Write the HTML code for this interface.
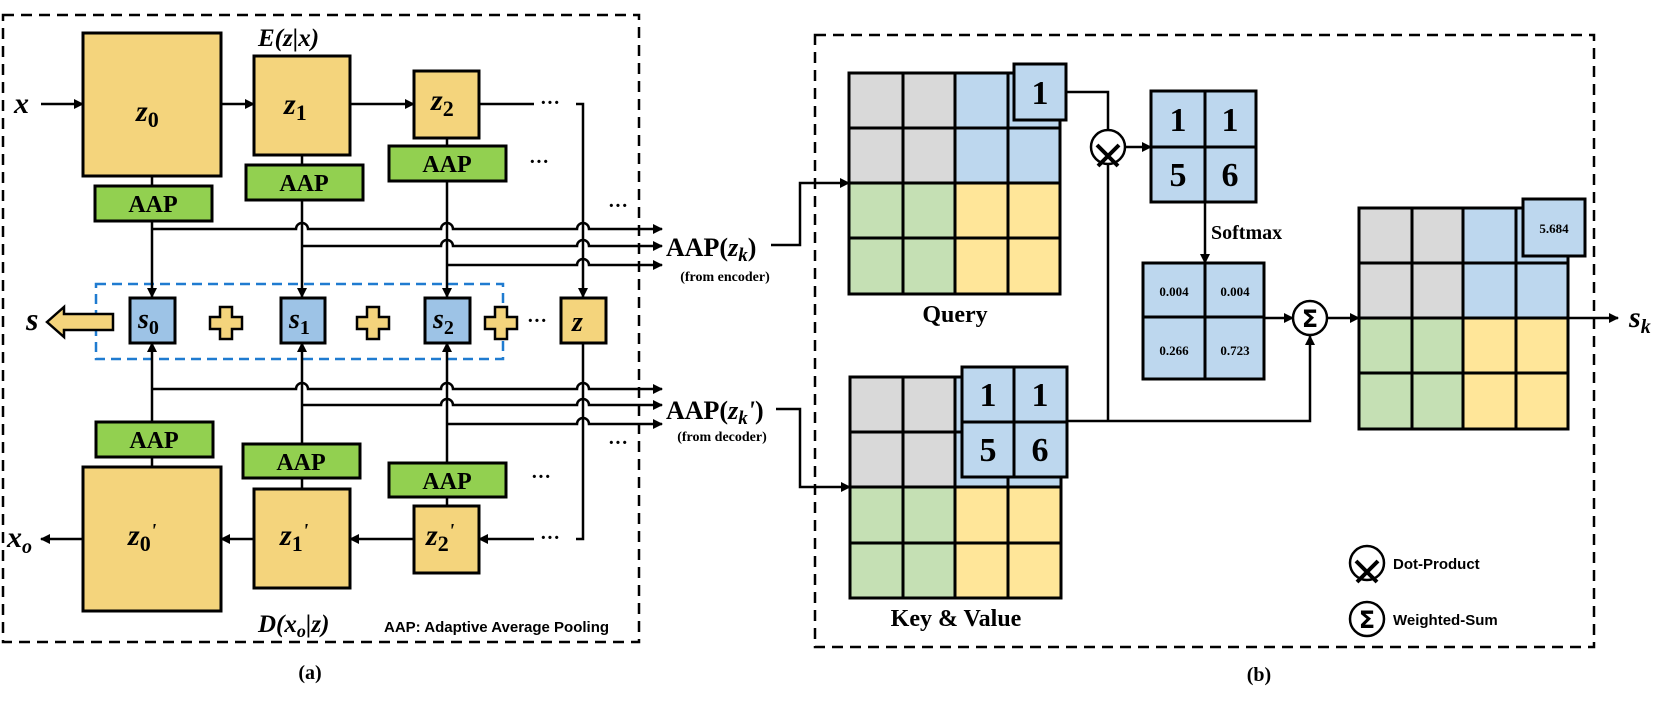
<!DOCTYPE html>
<html><head><meta charset="utf-8"><style>
html,body{margin:0;padding:0;background:#fff;}
svg{display:block;}
.m{font-family:"Liberation Serif",serif;font-style:italic;font-weight:bold;}
.b{font-family:"Liberation Serif",serif;font-weight:bold;}
.s{font-family:"Liberation Sans",sans-serif;font-weight:bold;}
</style></head><body>
<svg width="1661" height="702" viewBox="0 0 1661 702" xmlns="http://www.w3.org/2000/svg">
<defs>
<marker id="ah" markerWidth="10" markerHeight="10" refX="9" refY="5" orient="auto" markerUnits="userSpaceOnUse">
<path d="M0,0 L10,5 L0,10 z" fill="#000"/></marker>
</defs>
<g fill="none" stroke="#000" stroke-width="2.5" stroke-dasharray="11,7">
<rect x="3" y="15" width="636" height="627"/>
<rect x="815" y="35" width="779" height="612"/>
</g>
<rect x="96" y="284" width="407" height="75" fill="none" stroke="#1f7bd0" stroke-width="2.5" stroke-dasharray="10,6"/>

<g stroke="#000" stroke-width="2.5" fill="none">
<line x1="41" y1="104" x2="83" y2="104" marker-end="url(#ah)"/>
<line x1="221" y1="104" x2="254" y2="104" marker-end="url(#ah)"/>
<line x1="350" y1="104" x2="414" y2="104" marker-end="url(#ah)"/>
<line x1="479" y1="104" x2="534" y2="104"/>
<polyline points="576,104 583,104 583,297" marker-end="url(#ah)"/>
<line x1="152" y1="176" x2="152" y2="186"/>
<line x1="302" y1="155" x2="302" y2="165"/>
<line x1="447" y1="138" x2="447" y2="146"/>
<line x1="152" y1="221" x2="152" y2="297" marker-end="url(#ah)"/>
<line x1="302" y1="200" x2="302" y2="297" marker-end="url(#ah)"/>
<line x1="447" y1="181" x2="447" y2="297" marker-end="url(#ah)"/>
<path d="M152 229 H296 A6 6 0 0 1 308 229 H441 A6 6 0 0 1 453 229 H577 A6 6 0 0 1 589 229 H662" marker-end="url(#ah)"/>
<path d="M302 246 H441 A6 6 0 0 1 453 246 H577 A6 6 0 0 1 589 246 H662" marker-end="url(#ah)"/>
<path d="M447 265 H577 A6 6 0 0 1 589 265 H662" marker-end="url(#ah)"/>
<line x1="152" y1="422" x2="152" y2="343" marker-end="url(#ah)"/>
<line x1="302" y1="444" x2="302" y2="343" marker-end="url(#ah)"/>
<line x1="447" y1="463" x2="447" y2="343" marker-end="url(#ah)"/>
<path d="M152 389 H296 A6 6 0 0 1 308 389 H441 A6 6 0 0 1 453 389 H577 A6 6 0 0 1 589 389 H662" marker-end="url(#ah)"/>
<path d="M302 405 H441 A6 6 0 0 1 453 405 H577 A6 6 0 0 1 589 405 H662" marker-end="url(#ah)"/>
<path d="M447 424 H577 A6 6 0 0 1 589 424 H662" marker-end="url(#ah)"/>
<line x1="152" y1="457" x2="152" y2="467"/>
<line x1="302" y1="478" x2="302" y2="489"/>
<line x1="447" y1="497" x2="447" y2="506"/>
<polyline points="583,343 583,539 576,539"/>
<line x1="534" y1="539" x2="479" y2="539" marker-end="url(#ah)"/>
<line x1="414" y1="539" x2="350" y2="539" marker-end="url(#ah)"/>
<line x1="254" y1="539" x2="221" y2="539" marker-end="url(#ah)"/>
<line x1="83" y1="539" x2="41" y2="539" marker-end="url(#ah)"/>
<polyline points="771,245 800,245 800,183 849,183" marker-end="url(#ah)"/>
<polyline points="776,409 800,409 800,487 850,487" marker-end="url(#ah)"/>
</g>

<g stroke="#000" stroke-width="3">
<rect x="83" y="33" width="138" height="143" fill="#f4d47c"/>
<rect x="254" y="56" width="96" height="99" fill="#f4d47c"/>
<rect x="414" y="71" width="65" height="67" fill="#f4d47c"/>
<rect x="95" y="186" width="117" height="35" fill="#92d050"/>
<rect x="246" y="165" width="117" height="35" fill="#92d050"/>
<rect x="389" y="146" width="117" height="35" fill="#92d050"/>
<rect x="130" y="298" width="45" height="45" fill="#9dc3e6"/>
<rect x="281" y="298" width="44" height="45" fill="#9dc3e6"/>
<rect x="425" y="298" width="45" height="45" fill="#9dc3e6"/>
<rect x="561" y="298" width="45" height="45" fill="#f4d47c"/>
<rect x="96" y="422" width="117" height="35" fill="#92d050"/>
<rect x="243" y="444" width="117" height="34" fill="#92d050"/>
<rect x="389" y="463" width="117" height="34" fill="#92d050"/>
<rect x="83" y="467" width="138" height="144" fill="#f4d47c"/>
<rect x="254" y="489" width="96" height="99" fill="#f4d47c"/>
<rect x="414" y="506" width="65" height="67" fill="#f4d47c"/>
</g>
<g fill="#f4d47c" stroke="#000" stroke-width="2.5">
<path d="M220 307 h12 v10 h10 v12 h-10 v10 h-12 v-10 h-10 v-12 h10 z"/>
<path d="M367 307 h12 v10 h10 v12 h-10 v10 h-12 v-10 h-10 v-12 h10 z"/>
<path d="M495 307 h12 v10 h10 v12 h-10 v10 h-12 v-10 h-10 v-12 h10 z"/>
<polygon points="47,322 64,307 64,314 113,314 113,330 64,330 64,337"/>
</g>

<g class="m" font-size="30">
<text x="14" y="113">x</text>
<text x="136" y="121">z<tspan font-size="22" font-style="normal" dy="6">0</tspan></text>
<text x="284" y="114">z<tspan font-size="22" font-style="normal" dy="6">1</tspan></text>
<text x="431" y="110">z<tspan font-size="22" font-style="normal" dy="6">2</tspan></text>
<text x="26" y="330" font-size="32">s</text>
<text x="138" y="328" font-size="28">s<tspan font-size="20" font-style="normal" dy="6">0</tspan></text>
<text x="289" y="328" font-size="28">s<tspan font-size="20" font-style="normal" dy="6">1</tspan></text>
<text x="433" y="328" font-size="28">s<tspan font-size="20" font-style="normal" dy="6">2</tspan></text>
<text x="572" y="331" font-size="28">z</text>
<text x="128" y="545">z<tspan font-size="22" font-style="normal" dy="6">0</tspan><tspan dy="-14" font-size="20">'</tspan></text>
<text x="280" y="545">z<tspan font-size="22" font-style="normal" dy="6">1</tspan><tspan dy="-14" font-size="20">'</tspan></text>
<text x="426" y="545">z<tspan font-size="22" font-style="normal" dy="6">2</tspan><tspan dy="-14" font-size="20">'</tspan></text>
<text x="7" y="547">x<tspan font-size="20" dy="6">o</tspan></text>
<text x="258" y="46" font-size="25">E(z|x)</text>
<text x="258" y="632" font-size="25">D(x<tspan font-size="18" dy="5">o</tspan><tspan dy="-5">|z)</tspan></text>
</g>
<g class="b" font-size="24" text-anchor="middle">
<text x="153" y="212">AAP</text>
<text x="304" y="191">AAP</text>
<text x="447" y="172">AAP</text>
<text x="154" y="448">AAP</text>
<text x="301" y="470">AAP</text>
<text x="447" y="489">AAP</text>
</g>
<g class="b" font-size="20" text-anchor="middle">
<text x="550" y="109">···</text><text x="539" y="168">···</text>
<text x="618" y="212">···</text><text x="537" y="327">···</text>
<text x="541" y="483">···</text><text x="618" y="449">···</text>
<text x="550" y="544">···</text>
</g>
<text x="384" y="632" class="s" font-size="15">AAP: Adaptive Average Pooling</text>
<text x="310" y="679" class="b" font-size="20" text-anchor="middle">(a)</text>
<text x="1259" y="681" class="b" font-size="20" text-anchor="middle">(b)</text>

<text x="666" y="256" class="b" font-size="26">AAP(<tspan class="m">z<tspan font-size="19" dy="5">k</tspan></tspan><tspan dy="-5">)</tspan></text>
<text x="725" y="281" class="b" font-size="14" text-anchor="middle">(from encoder)</text>
<text x="666" y="419" class="b" font-size="26">AAP(<tspan class="m">z<tspan font-size="19" dy="5">k</tspan><tspan dy="-5">'</tspan></tspan>)</text>
<text x="722" y="441" class="b" font-size="14" text-anchor="middle">(from decoder)</text>

<g stroke="#000" stroke-width="3">
<rect x="849" y="73" width="106" height="110" fill="#d9d9d9"/>
<rect x="955" y="73" width="105" height="110" fill="#bdd7ee"/>
<rect x="849" y="183" width="106" height="111" fill="#c5e0b4"/>
<rect x="955" y="183" width="105" height="111" fill="#ffe699"/>
<path d="M903 73 V294 M955 73 V294 M1008 73 V294 M849 128 H1060 M849 183 H1060 M849 238 H1060" fill="none"/>
<rect x="1014" y="64" width="52" height="56" fill="#bdd7ee"/>
<rect x="850" y="377" width="105" height="110" fill="#d9d9d9"/>
<rect x="955" y="377" width="106" height="110" fill="#bdd7ee"/>
<rect x="850" y="487" width="105" height="111" fill="#c5e0b4"/>
<rect x="955" y="487" width="106" height="111" fill="#ffe699"/>
<path d="M903 377 V598 M955 377 V598 M1008 377 V598 M850 432 H1061 M850 487 H1061 M850 543 H1061" fill="none"/>
<rect x="962" y="367" width="105" height="110" fill="#bdd7ee"/>
<path d="M1014 367 V477 M962 422 H1067" fill="none"/>
<rect x="1151" y="91" width="105" height="111" fill="#bdd7ee"/>
<path d="M1205 91 V202 M1151 147 H1256" fill="none"/>
<rect x="1143" y="263" width="121" height="116" fill="#bdd7ee"/>
<path d="M1205 263 V379 M1143 317 H1264" fill="none"/>
<rect x="1359" y="208" width="104" height="110" fill="#d9d9d9"/>
<rect x="1463" y="208" width="105" height="110" fill="#bdd7ee"/>
<rect x="1359" y="318" width="104" height="111" fill="#c5e0b4"/>
<rect x="1463" y="318" width="105" height="111" fill="#ffe699"/>
<path d="M1412 208 V429 M1463 208 V429 M1516 208 V429 M1359 263 H1568 M1359 318 H1568 M1359 373 H1568" fill="none"/>
<rect x="1523" y="199" width="62" height="57" fill="#bdd7ee"/>
</g>
<g stroke="#000" stroke-width="2.5" fill="none">
<polyline points="1066,92 1108,92 1108,130"/>
<line x1="1108" y1="164" x2="1108" y2="421"/>
<polyline points="1067,421 1310,421 1310,336" marker-end="url(#ah)"/>
<line x1="1126" y1="147" x2="1151" y2="147" marker-end="url(#ah)"/>
<line x1="1205" y1="202" x2="1205" y2="263" marker-end="url(#ah)"/>
<line x1="1264" y1="318" x2="1293" y2="318" marker-end="url(#ah)"/>
<line x1="1327" y1="318" x2="1359" y2="318" marker-end="url(#ah)"/>
<line x1="1568" y1="318" x2="1618" y2="318" marker-end="url(#ah)"/>
<circle cx="1108" cy="147" r="17" fill="#fff"/>
<path d="M1097 145 L1118 166 M1119 145 L1098 166" stroke-width="4"/>
<circle cx="1310" cy="318" r="17" fill="#fff"/>
<circle cx="1367" cy="563" r="17"/>
<path d="M1356 561 L1377 582 M1378 561 L1357 582" stroke-width="4"/>
<circle cx="1367" cy="619" r="17"/>
</g>
<text x="1310" y="327" font-family="'DejaVu Sans',sans-serif" font-weight="bold" font-size="24" text-anchor="middle">Σ</text>
<text x="1367" y="628" font-family="'DejaVu Sans',sans-serif" font-weight="bold" font-size="24" text-anchor="middle">Σ</text>
<g class="b" font-size="34" text-anchor="middle">
<text x="1040" y="104">1</text>
<text x="988" y="406">1</text><text x="1040" y="406">1</text>
<text x="988" y="461">5</text><text x="1040" y="461">6</text>
<text x="1178" y="131">1</text><text x="1230" y="131">1</text>
<text x="1178" y="186">5</text><text x="1230" y="186">6</text>
</g>
<g class="b" font-size="13" text-anchor="middle">
<text x="1174" y="296">0.004</text><text x="1235" y="296">0.004</text>
<text x="1174" y="355">0.266</text><text x="1235" y="355">0.723</text>
<text x="1554" y="233">5.684</text>
</g>
<text x="1211" y="239" class="b" font-size="20">Softmax</text>
<text x="955" y="322" class="b" font-size="24" text-anchor="middle">Query</text>
<text x="956" y="626" class="b" font-size="24" text-anchor="middle">Key &amp; Value</text>
<text x="1629" y="327" class="m" font-size="30">s<tspan font-size="20" dy="6">k</tspan></text>
<text x="1393" y="569" class="s" font-size="15">Dot-Product</text>
<text x="1393" y="625" class="s" font-size="15">Weighted-Sum</text>
</svg>
</body></html>
